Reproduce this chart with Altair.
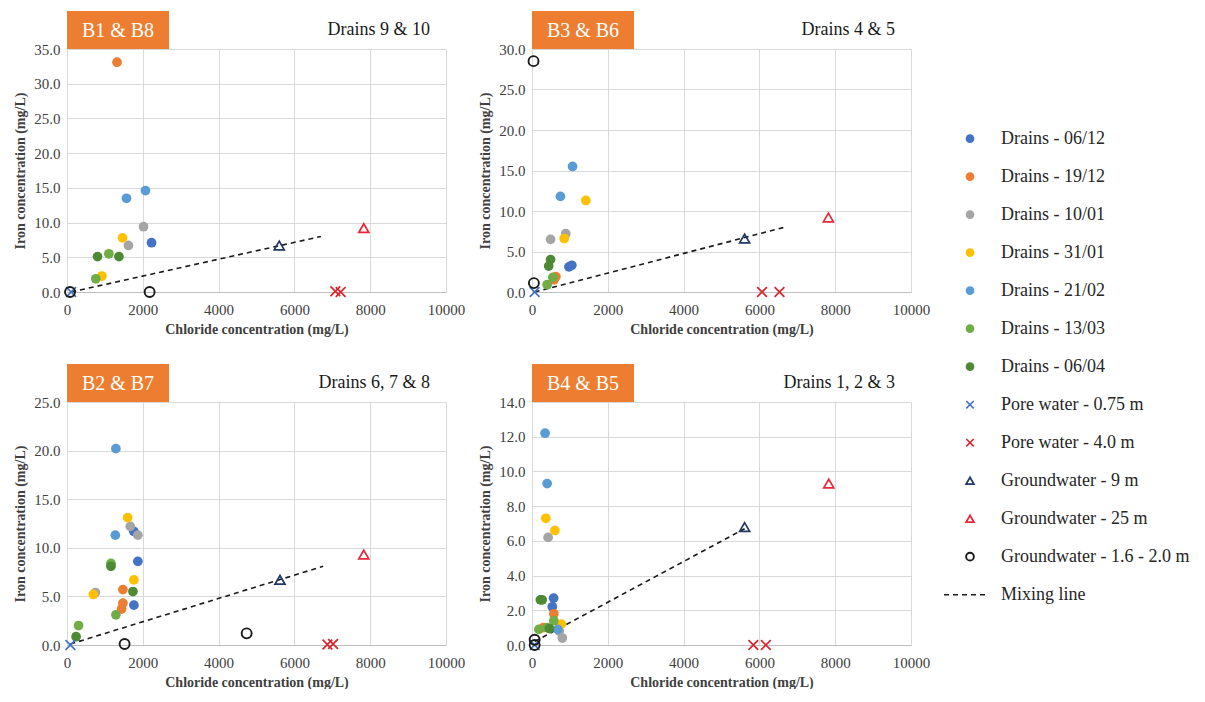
import altair as alt
import pandas as pd

# ---------------- series definitions ----------------
series_names = [
    "Drains - 06/12", "Drains - 19/12", "Drains - 10/01", "Drains - 31/01",
    "Drains - 21/02", "Drains  - 13/03", "Drains - 06/04",
    "Pore water - 0.75 m", "Pore water - 4.0 m",
    "Groundwater - 9 m", "Groundwater - 25 m", "Groundwater - 1.6 - 2.0 m",
]
series_colors = [
    "#4472C4", "#ED7D31", "#A5A5A5", "#FFC000", "#5B9BD5", "#70AD47", "#4E8A35",
    "#4472C4", "#D9262E", "#1F3864", "#E8283A", "#1A1A1A",
]
series_kind = ["drain"] * 7 + ["cross", "cross", "tri", "tri", "ring"]

# ---------------- panel meta ----------------
panel_ids = ["p1", "p2", "p3", "p4"]
panel_box = ["B1 & B8", "B3 & B6", "B2 & B7", "B4 & B5"]
panel_drains = ["Drains 9 & 10", "Drains 4 & 5", "Drains 6, 7 & 8", "Drains 1, 2 & 3"]
panel_ymax = [35, 30, 25, 14]
panel_ystep = [5, 5, 5, 2]
x_ticks = [0, 2000, 4000, 6000, 8000, 10000]

# ---------------- data: (series index, chloride, iron) ----------------
p1_series = [0, 1, 2, 2, 3, 3, 4, 4, 5, 5, 6, 6, 7, 8, 8, 9, 10, 11, 11]
p1_cl = [2230, 1320, 2020, 1620, 1465, 920, 1570, 2070, 1105, 760, 805, 1370,
         110, 7080, 7220, 5600, 7830, 80, 2180]
p1_fe = [7.1, 33.1, 9.4, 6.7, 7.8, 2.3, 13.5, 14.6, 5.5, 1.9, 5.1, 5.1,
         0.0, 0.1, 0.0, 6.7, 9.2, 0.0, 0.0]

p2_series = [0, 0, 1, 1, 2, 2, 3, 3, 4, 4, 5, 5, 6, 6, 7, 8, 8, 9, 10, 11, 11]
p2_cl = [975, 1050, 630, 580, 490, 890, 850, 1420, 1070, 750, 550, 400, 490, 440,
         70, 6070, 6530, 5610, 7820, 40, 50]
p2_fe = [3.1, 3.3, 1.9, 1.5, 6.5, 7.2, 6.6, 11.3, 15.5, 11.8, 1.8, 0.9, 4.0, 3.2,
         0.0, 0.0, 0.0, 6.6, 9.2, 28.5, 1.1]

p3_series = [0, 0, 0, 1, 1, 1, 2, 2, 2, 3, 3, 3, 4, 4, 5, 5, 5, 6, 6, 6,
             7, 8, 8, 9, 10, 11, 11]
p3_cl = [1760, 1870, 1765, 1475, 1475, 1440, 1670, 1870, 750, 1600, 1765, 695,
         1290, 1275, 1160, 1290, 305, 1160, 1740, 240,
         90, 6870, 7020, 5620, 7830, 1520, 4740]
p3_fe = [11.7, 8.6, 4.1, 5.7, 4.3, 3.7, 12.2, 11.3, 5.4, 13.1, 6.7, 5.2,
         20.2, 11.3, 8.4, 3.1, 2.0, 8.1, 5.5, 0.85,
         0.0, 0.05, 0.1, 6.7, 9.3, 0.1, 1.2]

p4_series = [0, 0, 1, 1, 2, 2, 2, 3, 3, 3, 4, 4, 4, 5, 5, 5, 6, 6, 6,
             7, 8, 8, 9, 10, 11, 11]
p4_cl = [570, 535, 575, 300, 425, 800, 720, 365, 605, 775, 345, 400, 680,
         180, 575, 400, 220, 270, 460,
         70, 5840, 6170, 5610, 7830, 70, 70]
p4_fe = [2.7, 2.2, 1.8, 1.0, 6.2, 0.4, 0.8, 7.3, 6.6, 1.2, 12.2, 9.3, 0.9,
         0.9, 1.4, 1.0, 2.6, 2.6, 0.95,
         0.0, 0.0, 0.0, 6.8, 9.3, 0.3, 0.0]

# mixing line end points per panel
mix_cl = [[110, 6700], [70, 6630], [90, 6760], [70, 5610]]
mix_fe = [[0.0, 8.0], [0.0, 7.95], [0.1, 8.1], [0.2, 6.7]]

all_series = [p1_series, p2_series, p3_series, p4_series]
all_cl = [p1_cl, p2_cl, p3_cl, p4_cl]
all_fe = [p1_fe, p2_fe, p3_fe, p4_fe]

FONT = "Liberation Serif"

color_scale = alt.Scale(domain=series_names, range=series_colors)
X_SHAPE = "M-1,-1L1,1M-1,1L1,-1"

W, H = 379, 243


def make_panel(i):
    df = pd.DataFrame({
        "series": [series_names[s] for s in all_series[i]],
        "kind": [series_kind[s] for s in all_series[i]],
        "cl": all_cl[i],
        "fe": all_fe[i],
    })
    ymax = panel_ymax[i]
    yvals = list(range(0, ymax + 1, panel_ystep[i]))
    xenc = alt.X("cl:Q", scale=alt.Scale(domain=[0, 10000], nice=False),
                 axis=alt.Axis(values=x_ticks, format="d", labelFlush=False, labelOverlap=False,
                               labelFont=FONT, titleFont=FONT, labelPadding=10, titlePadding=5,
                               title="Chloride concentration (mg/L)"))
    yenc = alt.Y("fe:Q", scale=alt.Scale(domain=[0, ymax], nice=False),
                 axis=alt.Axis(values=yvals, format=".1f", labelOverlap=False,
                               labelFont=FONT, titleFont=FONT, labelPadding=7, titlePadding=6,
                               title="Iron concentration (mg/L)"))
    col = alt.Color("series:N", scale=color_scale, legend=None)
    base = alt.Chart(df).encode(x=xenc, y=yenc, color=col)

    drains = base.transform_filter(alt.datum.kind == "drain").mark_circle(size=95, opacity=1)
    crosses = base.transform_filter(alt.datum.kind == "cross").mark_point(
        shape=X_SHAPE, filled=False, size=95, strokeWidth=1.7, opacity=1)
    tris = base.transform_filter(alt.datum.kind == "tri").mark_point(
        shape="triangle-up", filled=False, size=100, strokeWidth=1.7, opacity=1)
    rings = base.transform_filter(alt.datum.kind == "ring").mark_point(
        shape="circle", filled=False, size=100, strokeWidth=1.9, opacity=1)

    ldf = pd.DataFrame({"cl": mix_cl[i], "fe": mix_fe[i]})
    line = alt.Chart(ldf).mark_line(color="#1A1A1A", strokeDash=[5, 4], strokeWidth=1.6).encode(
        x=xenc, y=yenc)

    tdf = pd.DataFrame({"box": [panel_box[i]], "drains": [panel_drains[i]]})
    box = alt.Chart(tdf).mark_rect(color="#ED7D31").encode(
        x=alt.value(0), x2=alt.value(102), y=alt.value(-38), y2=alt.value(0))
    box_txt = alt.Chart(tdf).mark_text(color="white", font=FONT, fontSize=20,
                                       align="center", baseline="middle").encode(
        x=alt.value(51), y=alt.value(-18), text="box:N")
    dr_txt = alt.Chart(tdf).mark_text(color="#1A1A1A", font=FONT, fontSize=18,
                                      align="right", baseline="middle").encode(
        x=alt.value(363), y=alt.value(-19), text="drains:N")

    return alt.layer(line, drains, crosses, tris, rings, box, box_txt, dr_txt).properties(
        width=W, height=H)


p = [make_panel(i) for i in range(4)]
grid = alt.vconcat(
    alt.hconcat(p[0], p[1], spacing=13),
    alt.hconcat(p[2], p[3], spacing=13),
    spacing=28,
)

# ---------------- legend panel ----------------
leg_labels = series_names + ["Mixing line"]
leg_kind = series_kind + ["line"]
leg_df = pd.DataFrame({
    "label": leg_labels,
    "series": series_names + ["Mixing line"],
    "kind": leg_kind,
    "idx": list(range(len(leg_labels))),
})
LH = 560
TOP = -2.36
ly = alt.Y("idx:Q", scale=alt.Scale(domain=[TOP, TOP + LH / 38.0], reverse=True), axis=None)
lcol = alt.Color("series:N", scale=color_scale, legend=None)
lbase = alt.Chart(leg_df).encode(y=ly)
SX = 35
l_dr = lbase.transform_filter(alt.datum.kind == "drain").mark_circle(size=75, opacity=1).encode(
    x=alt.value(SX), color=lcol)
l_cr = lbase.transform_filter(alt.datum.kind == "cross").mark_point(
    shape=X_SHAPE, filled=False, size=55, strokeWidth=1.6, opacity=1).encode(x=alt.value(SX), color=lcol)
l_tr = lbase.transform_filter(alt.datum.kind == "tri").mark_point(
    shape="triangle-up", filled=False, size=60, strokeWidth=1.8, opacity=1).encode(x=alt.value(SX), color=lcol)
l_ri = lbase.transform_filter(alt.datum.kind == "ring").mark_point(
    shape="circle", filled=False, size=60, strokeWidth=1.9, opacity=1).encode(x=alt.value(SX), color=lcol)
l_ln = lbase.transform_filter(alt.datum.kind == "line").mark_rule(
    color="#1A1A1A", strokeDash=[5, 4], strokeWidth=1.6).encode(x=alt.value(9), x2=alt.value(54))
l_tx = lbase.mark_text(align="left", baseline="middle", font=FONT, fontSize=18, color="#262626").encode(
    x=alt.value(66), text="label:N")
legend = alt.layer(l_dr, l_cr, l_tr, l_ri, l_ln, l_tx).properties(width=200, height=LH)

chart = alt.hconcat(grid, legend, spacing=5).properties(
    padding={"left": 5, "top": 3, "right": 0, "bottom": 0}
).configure_view(stroke=None).configure_axis(
    labelFont=FONT, titleFont=FONT, labelFontSize=15, titleFontSize=14,
    labelColor="#404040", titleColor="#404040", titleFontWeight="bold",
    gridColor="#D9D9D9", domain=False, ticks=False,
).configure_axisX(domain=True, domainColor="#BFBFBF")

chart.save("out.html", embed_options={"renderer": "svg", "actions": False})
